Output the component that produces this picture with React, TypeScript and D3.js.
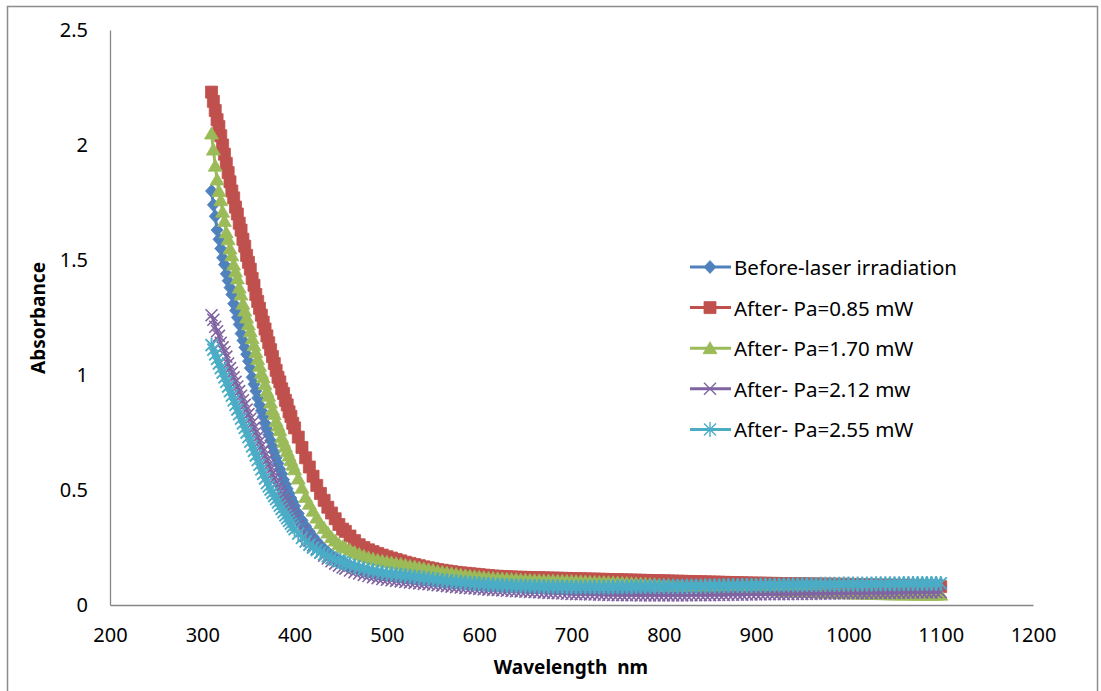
import React, { useEffect, useRef } from "react";
import * as d3 from "d3";

// wavelength grid (nm): finer steps where the curves fall steeply
const steepNm = d3.range(310, 401, 2); // 46
const kneeNm = d3.range(404, 453, 4); // 13
const tailNm = d3.range(455, 1101, 5); // 130

const xTicks = [200, 300, 400, 500, 600, 700, 800, 900, 1000, 1100, 1200];
const yTicks = [0, 0.5, 1, 1.5, 2, 2.5];

// Before-laser irradiation
const beforeSteep = [1.80, 1.74, 1.69, 1.63, 1.59, 1.55, 1.51, 1.48, 1.44, 1.41,
  1.38, 1.35, 1.31, 1.28, 1.25, 1.22, 1.18, 1.15, 1.12, 1.09,
  1.06, 1.03, 0.99, 0.96, 0.93, 0.90, 0.87, 0.845, 0.82, 0.79,
  0.765, 0.74, 0.715, 0.69, 0.665, 0.64, 0.615, 0.59, 0.57, 0.545,
  0.525, 0.505, 0.485, 0.465, 0.448, 0.43];
const beforeKnee = [0.398, 0.368, 0.342, 0.319, 0.297, 0.277, 0.259, 0.243, 0.229, 0.216, 0.205, 0.195, 0.186];
const beforeTail = [0.18, 0.171, 0.163, 0.156, 0.15, 0.145, 0.14, 0.136, 0.133, 0.13,
  0.128, 0.126, 0.123, 0.121, 0.118, 0.116, 0.113, 0.111, 0.109, 0.107,
  0.105, 0.103, 0.101, 0.099, 0.0975, 0.096, 0.0945, 0.093, 0.0915, 0.09,
  0.0885, 0.087, 0.086, 0.085, 0.084, 0.083, 0.082, 0.081, 0.0805, 0.08,
  0.0795, 0.079, 0.0785, 0.078, 0.0775, 0.077, 0.077, 0.0765, 0.0765, 0.076,
  0.076, 0.076, 0.076, 0.076, 0.076, 0.076, 0.0765, 0.077, 0.077, 0.077,
  0.077, 0.0775, 0.0775, 0.078, 0.078, 0.078, 0.0785, 0.079, 0.079, 0.079,
  0.0795, 0.08, 0.08, 0.08, 0.08, 0.0805, 0.081, 0.081, 0.081, 0.082,
  0.082, 0.082, 0.082, 0.0825, 0.0825, 0.083, 0.083, 0.083, 0.083, 0.0835,
  0.084, 0.084, 0.084, 0.084, 0.0845, 0.085, 0.085, 0.085, 0.085, 0.0855,
  0.0855, 0.086, 0.086, 0.086, 0.086, 0.0865, 0.0865, 0.087, 0.087, 0.087,
  0.087, 0.087, 0.0875, 0.0875, 0.088, 0.088, 0.088, 0.088, 0.0885, 0.0885,
  0.089, 0.089, 0.089, 0.089, 0.0895, 0.0895, 0.09, 0.09, 0.09, 0.09];

// After- Pa=0.85 mW
const p085Steep = [2.23, 2.19, 2.15, 2.11, 2.08, 2.04, 2.00, 1.96, 1.92, 1.88,
  1.84, 1.80, 1.77, 1.73, 1.70, 1.66, 1.63, 1.59, 1.56, 1.52,
  1.49, 1.46, 1.42, 1.39, 1.35, 1.32, 1.29, 1.26, 1.23, 1.20,
  1.17, 1.14, 1.11, 1.08, 1.05, 1.02, 0.99, 0.97, 0.94, 0.92,
  0.89, 0.87, 0.84, 0.82, 0.79, 0.77];
const p085Knee = [0.73, 0.685, 0.64, 0.60, 0.56, 0.52, 0.485, 0.455, 0.425, 0.40, 0.375, 0.35, 0.33];
const p085Tail = [0.32, 0.30, 0.28, 0.262, 0.25, 0.24, 0.232, 0.224, 0.217, 0.21,
  0.204, 0.198, 0.192, 0.186, 0.181, 0.176, 0.171, 0.166, 0.162, 0.158,
  0.154, 0.151, 0.148, 0.145, 0.142, 0.14, 0.138, 0.136, 0.134, 0.132,
  0.130, 0.128, 0.126, 0.125, 0.124, 0.123, 0.122, 0.121, 0.1205, 0.12,
  0.1195, 0.119, 0.1185, 0.118, 0.1175, 0.117, 0.1165, 0.116, 0.1155, 0.115,
  0.1145, 0.114, 0.1135, 0.113, 0.1125, 0.112, 0.1115, 0.111, 0.1105, 0.11,
  0.1095, 0.109, 0.1085, 0.108, 0.1075, 0.107, 0.1065, 0.106, 0.1055, 0.105,
  0.1045, 0.104, 0.1035, 0.103, 0.1025, 0.102, 0.1015, 0.101, 0.1005, 0.1,
  0.0995, 0.099, 0.0985, 0.098, 0.0975, 0.097, 0.0965, 0.096, 0.0955, 0.095,
  0.095, 0.0945, 0.094, 0.094, 0.0935, 0.093, 0.093, 0.0925, 0.0925, 0.092,
  0.092, 0.0915, 0.0915, 0.091, 0.091, 0.0905, 0.0905, 0.09, 0.09, 0.09,
  0.0895, 0.089, 0.0885, 0.088, 0.0875, 0.087, 0.0865, 0.086, 0.0855, 0.085,
  0.0845, 0.084, 0.0835, 0.083, 0.0825, 0.082, 0.0815, 0.081, 0.0805, 0.08];

// After- Pa=1.70 mW
const p170Steep = [2.05, 1.98, 1.91, 1.85, 1.80, 1.76, 1.71, 1.67, 1.62, 1.59,
  1.55, 1.52, 1.48, 1.45, 1.42, 1.38, 1.35, 1.31, 1.28, 1.25,
  1.22, 1.19, 1.16, 1.13, 1.10, 1.07, 1.04, 1.01, 0.99, 0.96,
  0.93, 0.91, 0.88, 0.85, 0.83, 0.80, 0.78, 0.76, 0.73, 0.71,
  0.69, 0.67, 0.65, 0.63, 0.61, 0.59];
const p170Knee = [0.55, 0.51, 0.47, 0.44, 0.41, 0.38, 0.355, 0.335, 0.315, 0.295, 0.28, 0.265, 0.255];
const p170Tail = [0.25, 0.24, 0.23, 0.222, 0.214, 0.207, 0.201, 0.196, 0.192, 0.188,
  0.185, 0.181, 0.178, 0.174, 0.17, 0.167, 0.163, 0.159, 0.155, 0.151,
  0.147, 0.144, 0.141, 0.138, 0.135, 0.132, 0.129, 0.127, 0.125, 0.123,
  0.121, 0.119, 0.1175, 0.116, 0.115, 0.114, 0.113, 0.112, 0.111, 0.11,
  0.109, 0.108, 0.1075, 0.107, 0.1065, 0.106, 0.1055, 0.105, 0.1045, 0.104,
  0.1035, 0.103, 0.102, 0.101, 0.1005, 0.1, 0.0995, 0.099, 0.0985, 0.098,
  0.097, 0.096, 0.095, 0.094, 0.093, 0.092, 0.091, 0.09, 0.089, 0.088,
  0.087, 0.086, 0.085, 0.084, 0.083, 0.082, 0.081, 0.08, 0.079, 0.078,
  0.077, 0.076, 0.075, 0.074, 0.073, 0.072, 0.071, 0.07, 0.069, 0.068,
  0.067, 0.066, 0.065, 0.064, 0.063, 0.062, 0.061, 0.06, 0.059, 0.058,
  0.057, 0.056, 0.055, 0.0545, 0.054, 0.0535, 0.053, 0.052, 0.0515, 0.051,
  0.0505, 0.05, 0.0495, 0.049, 0.0485, 0.048, 0.0475, 0.047, 0.0465, 0.046,
  0.046, 0.0458, 0.0455, 0.0453, 0.045, 0.045, 0.045, 0.045, 0.045, 0.045];

// After- Pa=2.12 mw
const p212Steep = [1.26, 1.24, 1.21, 1.19, 1.17, 1.14, 1.12, 1.10, 1.08, 1.05,
  1.03, 1.01, 0.99, 0.97, 0.95, 0.93, 0.91, 0.89, 0.87, 0.85,
  0.83, 0.81, 0.79, 0.77, 0.75, 0.73, 0.71, 0.69, 0.67, 0.65,
  0.63, 0.61, 0.59, 0.57, 0.55, 0.53, 0.51, 0.495, 0.48, 0.46,
  0.445, 0.43, 0.415, 0.40, 0.385, 0.37];
const p212Knee = [0.345, 0.322, 0.3, 0.28, 0.26, 0.244, 0.228, 0.214, 0.202, 0.19, 0.18, 0.171, 0.163];
const p212Tail = [0.158, 0.15, 0.143, 0.137, 0.131, 0.126, 0.121, 0.117, 0.113, 0.11,
  0.1075, 0.105, 0.1025, 0.1, 0.098, 0.096, 0.094, 0.092, 0.09, 0.088,
  0.086, 0.084, 0.082, 0.08, 0.078, 0.076, 0.0745, 0.073, 0.0715, 0.07,
  0.0685, 0.067, 0.066, 0.065, 0.0635, 0.062, 0.061, 0.06, 0.059, 0.058,
  0.057, 0.056, 0.055, 0.054, 0.053, 0.052, 0.051, 0.05, 0.049, 0.048,
  0.0475, 0.047, 0.0465, 0.046, 0.0455, 0.045, 0.0445, 0.044, 0.0435, 0.043,
  0.043, 0.043, 0.0425, 0.0425, 0.042, 0.042, 0.042, 0.042, 0.042, 0.042,
  0.042, 0.042, 0.042, 0.042, 0.042, 0.0425, 0.0425, 0.043, 0.043, 0.043,
  0.0435, 0.044, 0.044, 0.0445, 0.0445, 0.045, 0.045, 0.0455, 0.0455, 0.046,
  0.046, 0.0465, 0.0465, 0.047, 0.047, 0.0475, 0.0475, 0.048, 0.048, 0.048,
  0.0485, 0.0485, 0.049, 0.049, 0.0495, 0.0495, 0.05, 0.05, 0.0505, 0.051,
  0.051, 0.051, 0.0515, 0.0515, 0.052, 0.052, 0.0525, 0.0525, 0.053, 0.053,
  0.0535, 0.0535, 0.054, 0.054, 0.0545, 0.0545, 0.055, 0.055, 0.0555, 0.056];

// After- Pa=2.55 mW
const p255Steep = [1.13, 1.11, 1.09, 1.07, 1.05, 1.03, 1.01, 0.99, 0.97, 0.95,
  0.93, 0.91, 0.89, 0.87, 0.85, 0.83, 0.81, 0.79, 0.77, 0.75,
  0.73, 0.71, 0.69, 0.67, 0.65, 0.63, 0.61, 0.59, 0.57, 0.55,
  0.53, 0.516, 0.502, 0.488, 0.474, 0.46, 0.446, 0.432, 0.418, 0.404,
  0.39, 0.378, 0.366, 0.354, 0.342, 0.33];
const p255Knee = [0.31, 0.292, 0.276, 0.262, 0.25, 0.239, 0.229, 0.22, 0.212, 0.204, 0.197, 0.191, 0.185];
const p255Tail = [0.181, 0.174, 0.168, 0.162, 0.157, 0.152, 0.148, 0.144, 0.14, 0.137,
  0.1345, 0.132, 0.1295, 0.127, 0.1245, 0.122, 0.1195, 0.117, 0.1145, 0.112,
  0.1095, 0.107, 0.105, 0.103, 0.101, 0.099, 0.097, 0.095, 0.0935, 0.092,
  0.0905, 0.089, 0.088, 0.087, 0.086, 0.085, 0.084, 0.083, 0.0825, 0.082,
  0.0815, 0.081, 0.0805, 0.08, 0.0795, 0.079, 0.079, 0.0785, 0.0785, 0.078,
  0.078, 0.078, 0.078, 0.078, 0.078, 0.078, 0.078, 0.078, 0.0785, 0.079,
  0.079, 0.079, 0.0795, 0.08, 0.08, 0.08, 0.0805, 0.081, 0.081, 0.081,
  0.0815, 0.082, 0.082, 0.082, 0.0825, 0.083, 0.083, 0.083, 0.0835, 0.084,
  0.084, 0.084, 0.0845, 0.085, 0.085, 0.085, 0.0855, 0.086, 0.086, 0.086,
  0.0865, 0.087, 0.087, 0.087, 0.0875, 0.088, 0.088, 0.088, 0.0885, 0.089,
  0.089, 0.089, 0.0895, 0.09, 0.09, 0.09, 0.09, 0.0905, 0.091, 0.091,
  0.091, 0.091, 0.091, 0.0915, 0.0915, 0.092, 0.092, 0.092, 0.092, 0.0925,
  0.0925, 0.093, 0.093, 0.093, 0.093, 0.0935, 0.0935, 0.094, 0.094, 0.094];

const seriesNames = [
  "Before-laser irradiation",
  "After- Pa=0.85 mW",
  "After- Pa=1.70 mW",
  "After- Pa=2.12 mw",
  "After- Pa=2.55 mW",
];
const seriesColors = ["#4F81BD", "#C0504D", "#9BBB59", "#8064A2", "#4BACC6"];

const MARKERS: { d: string; filled: boolean; sw: number }[] = [
  { d: "M0,-6.5L6,0L0,6.5L-6,0Z", filled: true, sw: 0.8 },
  { d: "M-6,-6H6V6H-6Z", filled: true, sw: 0.8 },
  { d: "M0,-6.5L7,5.5L-7,5.5Z", filled: true, sw: 0.8 },
  { d: "M-6,-6L6,6M-6,6L6,-6", filled: false, sw: 1.6 },
  { d: "M-6,-6L6,6M-6,6L6,-6M0,-7.5V7.5", filled: false, sw: 1.9 },
];

const FONT = "'Noto Sans', 'Liberation Sans', Arial, sans-serif";

type Pt = { nm: number; a: number };

function join(steep: number[], knee: number[], tail: number[]): Pt[] {
  const nm = [...steepNm, ...kneeNm, ...tailNm];
  const a = [...steep, ...knee, ...tail];
  const n = Math.min(nm.length, a.length);
  return d3.range(n).map((i) => ({ nm: nm[i], a: a[i] }));
}

export default function App() {
  const ref = useRef<SVGSVGElement>(null);

  useEffect(() => {
    const svg = d3.select(ref.current);
    svg.selectAll("*").remove();

    const data = [
      join(beforeSteep, beforeKnee, beforeTail),
      join(p085Steep, p085Knee, p085Tail),
      join(p170Steep, p170Knee, p170Tail),
      join(p212Steep, p212Knee, p212Tail),
      join(p255Steep, p255Knee, p255Tail),
    ];

    const x = d3.scaleLinear().domain([200, 1200]).range([110, 1033]);
    const y = d3.scaleLinear().domain([0, 2.5]).range([605, 30]);

    // chart frame
    svg.append("rect")
      .attr("x", 7.5).attr("y", 6.5)
      .attr("width", 1090).attr("height", 720)
      .attr("fill", "white")
      .attr("stroke", "#8c8c8c")
      .attr("stroke-width", 1.5);

    const xAxis = svg.append("g")
      .attr("transform", "translate(0,605)")
      .call(d3.axisBottom(x).tickValues(xTicks).tickSize(0).tickSizeOuter(0).tickPadding(23).tickFormat((d) => String(d)));
    const yAxis = svg.append("g")
      .attr("transform", "translate(110,0)")
      .call(d3.axisLeft(y).tickValues(yTicks).tickSize(0).tickSizeOuter(0).tickPadding(22).tickFormat((d) => String(d)));

    [xAxis, yAxis].forEach((g) => {
      g.select(".domain").attr("stroke", "#868686").attr("stroke-width", 1.3);
      g.selectAll("text")
        .attr("font-family", FONT)
        .attr("font-size", 20)
        .attr("fill", "#000");
    });

    const line = d3.line<Pt>().x((d) => x(d.nm)).y((d) => y(d.a));

    data.forEach((pts, i) => {
      const color = seriesColors[i];
      const mk = MARKERS[i];
      const g = svg.append("g");
      g.append("path")
        .datum(pts)
        .attr("fill", "none")
        .attr("stroke", color)
        .attr("stroke-width", 3)
        .attr("stroke-linejoin", "round")
        .attr("d", line);
      g.selectAll("path.mk")
        .data(pts)
        .join("path")
        .attr("class", "mk")
        .attr("transform", (d) => `translate(${x(d.nm)},${y(d.a)})`)
        .attr("d", mk.d)
        .attr("fill", mk.filled ? color : "none")
        .attr("stroke", color)
        .attr("stroke-width", mk.sw);
    });

    // legend
    const legend = svg.append("g");
    seriesNames.forEach((name, i) => {
      const ly = 267 + i * 40.6;
      const color = seriesColors[i];
      const mk = MARKERS[i];
      legend.append("line")
        .attr("x1", 690).attr("x2", 731)
        .attr("y1", ly).attr("y2", ly)
        .attr("stroke", color).attr("stroke-width", 3);
      legend.append("path")
        .attr("transform", `translate(710,${ly})`)
        .attr("d", mk.d)
        .attr("fill", mk.filled ? color : "none")
        .attr("stroke", color)
        .attr("stroke-width", mk.filled ? 0.8 : 1.4);
      legend.append("text")
        .attr("x", 734).attr("y", ly)
        .attr("dominant-baseline", "central")
        .attr("font-family", FONT)
        .attr("font-size", 20.5)
        .text(name);
    });

    // axis titles
    svg.append("text")
      .attr("x", 571).attr("y", 667)
      .attr("text-anchor", "middle")
      .attr("dominant-baseline", "central")
      .attr("font-family", FONT)
      .attr("font-weight", "bold")
      .attr("font-size", 19)
      .style("white-space", "pre")
      .text("Wavelength  nm");
    svg.append("text")
      .attr("transform", "translate(38,318) rotate(-90)")
      .attr("text-anchor", "middle")
      .attr("dominant-baseline", "central")
      .attr("font-family", FONT)
      .attr("font-weight", "bold")
      .attr("font-size", 19)
      .text("Absorbance");
  }, []);

  return (
    <svg
      ref={ref}
      width={1101}
      height={691}
      style={{ position: "absolute", left: 0, top: 0, background: "white" }}
    />
  );
}
